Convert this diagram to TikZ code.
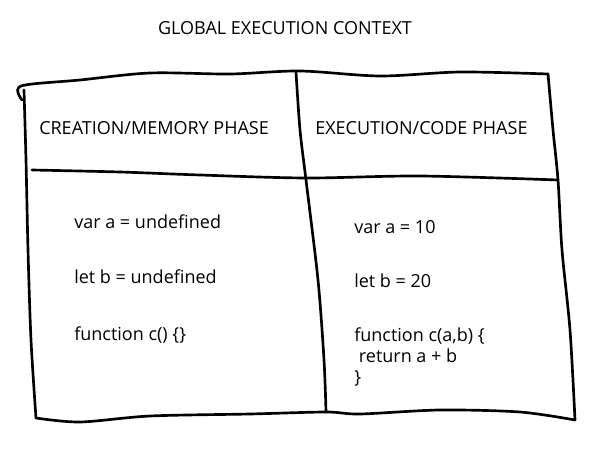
\documentclass[tikz,border=0pt]{standalone}
\usepackage{fontspec}
\setmainfont{Open Sans}
\begin{document}
\begin{tikzpicture}[x=0.75pt,y=0.75pt,yscale=-1,xscale=1,
	sketch/.style={line width=2pt, line cap=round, line join=round},
	txt/.style={anchor=west, inner sep=0.75pt, font=\fontsize{13.5}{16}\selectfont}]
	\useasboundingbox (0,0) rectangle (606,452);

	% Title
	\node (title) at (285,28) [inner sep=0.75pt, font=\fontsize{13.5}{16}\selectfont] {GLOBAL EXECUTION CONTEXT};

	% Outer box
	\draw [sketch] plot [smooth] coordinates {(22,100) (21,86) (80,80) (150,73) (230,74) (300,71) (380,76) (460,72) (548,74)};
	\draw [sketch] plot [smooth] coordinates {(548,74) (553,130) (558,180) (562,250) (570,330) (575,420)};
	\draw [sketch] plot [smooth] coordinates {(575,420) (520,412) (440,410) (360,414) (326,412) (250,414) (150,416) (80,422) (36,418)};
	\draw [sketch] plot [smooth] coordinates {(24,90) (26,160) (28,250) (31,340) (36,418)};
	% Dividers
	\draw [sketch] plot [smooth] coordinates {(296,72) (300,130) (306,180) (318,280) (324,360) (326,412)};
	\draw [sketch] plot [smooth] coordinates {(32,170) (120,172) (200,175) (306,178) (420,176) (558,180)};

	% Headings
	\node (memhead) at (38,128) [txt] {CREATION/MEMORY PHASE};
	\node (exehead) at (314,128) [txt] {EXECUTION/CODE PHASE};

	% Memory phase
	\node (mema) at (73,222) [txt] {var a = undefined};
	\node (memb) at (73,277) [txt] {let b = undefined};
	\node (memc) at (73,335) [txt] {function c() \{\}};

	% Code phase
	\node (exea) at (353,227) [txt] {var a = 10};
	\node (exeb) at (353,281) [txt] {let b = 20};
	\node (exec) at (353,357) [txt, align=left] {function c(a,b) \{\\\ return a + b\\\}};
\end{tikzpicture}
\end{document}
